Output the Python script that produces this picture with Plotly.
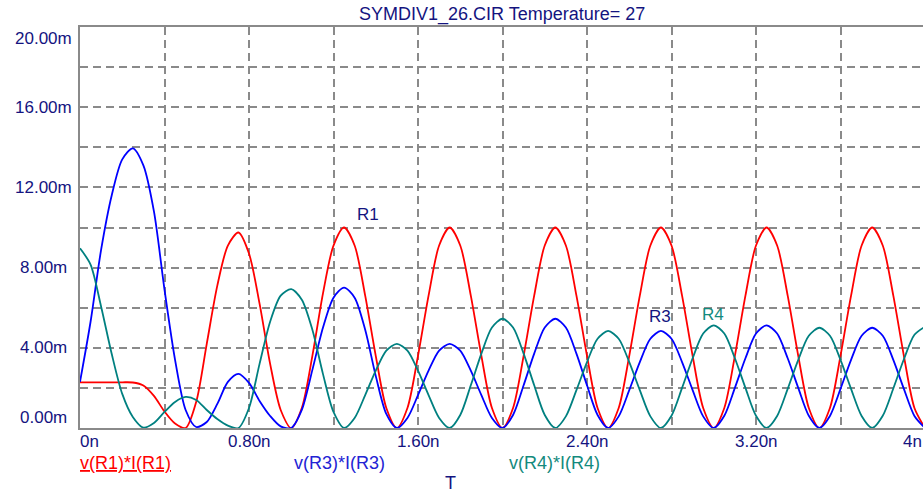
import plotly.graph_objects as go

# ---------------- data (time in ns, power in mW) ----------------
t_ns = [0.00, 0.05, 0.10, 0.15, 0.20, 0.25, 0.30, 0.35, 0.40, 0.45,
        0.50, 0.55, 0.60, 0.65, 0.70, 0.75, 0.80, 0.85, 0.90, 0.95,
        1.00, 1.05, 1.10, 1.15, 1.20, 1.25, 1.30, 1.35, 1.40, 1.45,
        1.50, 1.55, 1.60, 1.65, 1.70, 1.75, 1.80, 1.85, 1.90, 1.95,
        2.00, 2.05, 2.10, 2.15, 2.20, 2.25, 2.30, 2.35, 2.40, 2.45,
        2.50, 2.55, 2.60, 2.65, 2.70, 2.75, 2.80, 2.85, 2.90, 2.95,
        3.00, 3.05, 3.10, 3.15, 3.20, 3.25, 3.30, 3.35, 3.40, 3.45,
        3.50, 3.55, 3.60, 3.65, 3.70, 3.75, 3.80, 3.85, 3.90, 3.95,
        4.00]

p_r1 = [2.28, 2.28, 2.28, 2.28, 2.28, 2.27, 2.12, 1.60, 0.82, 0.22,
        0.00, 1.30, 4.20, 7.10, 9.10, 9.75, 8.70, 6.20, 3.20, 0.90,
        0.00, 1.00, 3.60, 6.70, 9.10, 10.00, 9.10, 6.60, 3.60, 1.00,
        0.00, 1.00, 3.60, 6.60, 9.10, 10.00, 9.10, 6.60, 3.60, 1.00,
        0.00, 1.00, 3.60, 6.60, 9.10, 10.00, 9.10, 6.60, 3.60, 1.00,
        0.00, 1.00, 3.60, 6.60, 9.10, 10.00, 9.10, 6.60, 3.60, 1.00,
        0.00, 1.00, 3.60, 6.60, 9.10, 10.00, 9.10, 6.60, 3.60, 1.00,
        0.00, 1.00, 3.60, 6.60, 9.10, 10.00, 9.10, 6.60, 3.60, 1.00,
        0.00]

p_r3 = [2.30, 5.30, 8.90, 11.60, 13.40, 13.95, 13.10, 10.80, 6.90, 3.40,
        0.90, 0.05, 0.30, 1.20, 2.30, 2.70, 2.25, 1.35, 0.60, 0.08,
        0.00, 0.90, 2.90, 5.00, 6.50, 7.00, 6.50, 4.90, 2.60, 0.70,
        0.00, 0.50, 1.64, 2.86, 3.86, 4.20, 3.86, 2.86, 1.64, 0.50,
        0.00, 0.65, 2.13, 3.71, 5.01, 5.45, 5.01, 3.71, 2.13, 0.65,
        0.00, 0.58, 1.89, 3.29, 4.45, 4.84, 4.45, 3.29, 1.89, 0.58,
        0.00, 0.61, 2.00, 3.48, 4.71, 5.12, 4.71, 3.48, 2.00, 0.61,
        0.00, 0.60, 1.95, 3.40, 4.60, 5.00, 4.60, 3.40, 1.95, 0.60,
        0.00]

p_r4 = [8.96, 8.15, 6.05, 3.70, 1.70, 0.55, 0.02, 0.25, 0.80, 1.30,
        1.55, 1.40, 0.90, 0.45, 0.12, 0.00, 1.00, 3.20, 5.30, 6.60,
        6.93, 6.40, 4.90, 2.70, 0.80, 0.00, 0.50, 1.64, 2.86, 3.86,
        4.20, 3.86, 2.86, 1.64, 0.50, 0.00, 0.65, 2.13, 3.71, 5.01,
        5.45, 5.01, 3.71, 2.13, 0.65, 0.00, 0.58, 1.89, 3.29, 4.45,
        4.84, 4.45, 3.29, 1.89, 0.58, 0.00, 0.61, 2.00, 3.48, 4.71,
        5.12, 4.71, 3.48, 2.00, 0.61, 0.00, 0.60, 1.95, 3.40, 4.60,
        5.00, 4.60, 3.40, 1.95, 0.60, 0.00, 0.61, 1.97, 3.43, 4.65,
        5.05]

series_names = ["v(R1)*I(R1)", "v(R3)*I(R3)", "v(R4)*I(R4)"]
curve_labels = ["R1", "R3", "R4"]

x_tick_vals = [0.0, 0.8, 1.6, 2.4, 3.2, 4.0]
x_tick_text = ["0n", "0.80n", "1.60n", "2.40n", "3.20n", "4n"]
y_tick_vals = [0, 4, 8, 12, 16, 20]
y_tick_text = ["0.00m", "4.00m", "8.00m", "12.00m", "16.00m", "20.00m"]
x_title = "T"
title_text = "SYMDIV1_26.CIR Temperature= 27"

# ---------------- styling / layout ----------------
W, H = 923, 495
L, T, B = 80, 27, 67
PW = W - L
X_MAX = 4.0 * PW / 845.0
FONT = "Liberation Sans, Arial, sans-serif"
NAVY = "#14147f"
colors = ["#ff0000", "#0000ff", "#008080"]
legend_text_colors = ["#ff0000", "#2323d4", "#138a7d"]
legend_px = [80, 294, 509]
curve_label_pos = [(1.363, 10.67), (2.746, 5.54), (2.996, 5.64)]
curve_label_colors = [NAVY, NAVY, "#138a7d"]

fig = go.Figure()
for ys, name, c in zip([p_r1, p_r3, p_r4], series_names, colors):
    fig.add_trace(go.Scatter(x=t_ns, y=ys, name=name, mode="lines",
                             line=dict(color=c, width=1.8, shape="spline", smoothing=0.8),
                             showlegend=False, hoverinfo="skip"))

ann = []
# title
ann.append(dict(text=title_text, xref="paper", yref="paper", x=0.5, y=1,
                yshift=13, xanchor="center", yanchor="middle", showarrow=False,
                font=dict(family=FONT, size=18, color=NAVY)))
# x tick labels
for i, (v, s) in enumerate(zip(x_tick_vals, x_tick_text)):
    last = i == len(x_tick_vals) - 1
    anchor = "left" if i == 0 else ("right" if last else "center")
    pos = 0.0 if i == 0 else (1.0 if last else v / X_MAX)
    xs = -2 if i == 0 else (1 if last else 0)
    ann.append(dict(text=s, xref="paper", yref="paper", x=pos, y=0,
                    yshift=-13, xshift=xs, xanchor=anchor, yanchor="middle",
                    showarrow=False, font=dict(family=FONT, size=17, color=NAVY)))
# y tick labels
for i, (v, s) in enumerate(zip(y_tick_vals, y_tick_text)):
    ys = 11 if i == 0 else (-11 if i == len(y_tick_vals) - 1 else 0)
    ann.append(dict(text=s, xref="paper", yref="y", x=(43 - L) / PW, y=v,
                    yshift=ys, xanchor="center", yanchor="middle",
                    showarrow=False, font=dict(family=FONT, size=17, color=NAVY)))
# series names under the axis
for i, (name, px, c) in enumerate(zip(series_names, legend_px, legend_text_colors)):
    txt = "<u>" + name + "</u>" if i == 0 else name
    ann.append(dict(text=txt, xref="paper", yref="paper", x=(px - L) / PW, y=0,
                    yshift=-35, xshift=-2, xanchor="left", yanchor="middle",
                    showarrow=False, font=dict(family=FONT, size=18, color=c)))
# x axis title
ann.append(dict(text=x_title, xref="paper", yref="paper", x=(450 - L) / PW, y=0,
                yshift=-55, xanchor="center", yanchor="middle", showarrow=False,
                font=dict(family=FONT, size=18, color=NAVY)))
# curve labels
for lab, (cx, cy), c in zip(curve_labels, curve_label_pos, curve_label_colors):
    ann.append(dict(text=lab, xref="x", yref="y", x=cx, y=cy, xanchor="center",
                    yanchor="middle", showarrow=False,
                    font=dict(family=FONT, size=17, color=c)))

fig.update_layout(
    width=W, height=H,
    margin=dict(l=L, r=0, t=T, b=B, autoexpand=False),
    paper_bgcolor="white", plot_bgcolor="white",
    annotations=ann,
    xaxis=dict(range=[0, X_MAX], tick0=0, dtick=0.4, showticklabels=False,
               ticks="", showgrid=True, gridcolor="#8a8a8a", gridwidth=1.5,
               griddash="8px,5px", zeroline=False, showline=True, mirror=True,
               linecolor="#8a8a8a", linewidth=2),
    yaxis=dict(range=[0, 20], tick0=0, dtick=2, showticklabels=False,
               ticks="", showgrid=True, gridcolor="#8a8a8a", gridwidth=1.5,
               griddash="8px,5px", zeroline=False, showline=True, mirror=False,
               linecolor="#8a8a8a", linewidth=2),
    hovermode=False,
)

fig.write_html("out.html", config={"displayModeBar": False})
